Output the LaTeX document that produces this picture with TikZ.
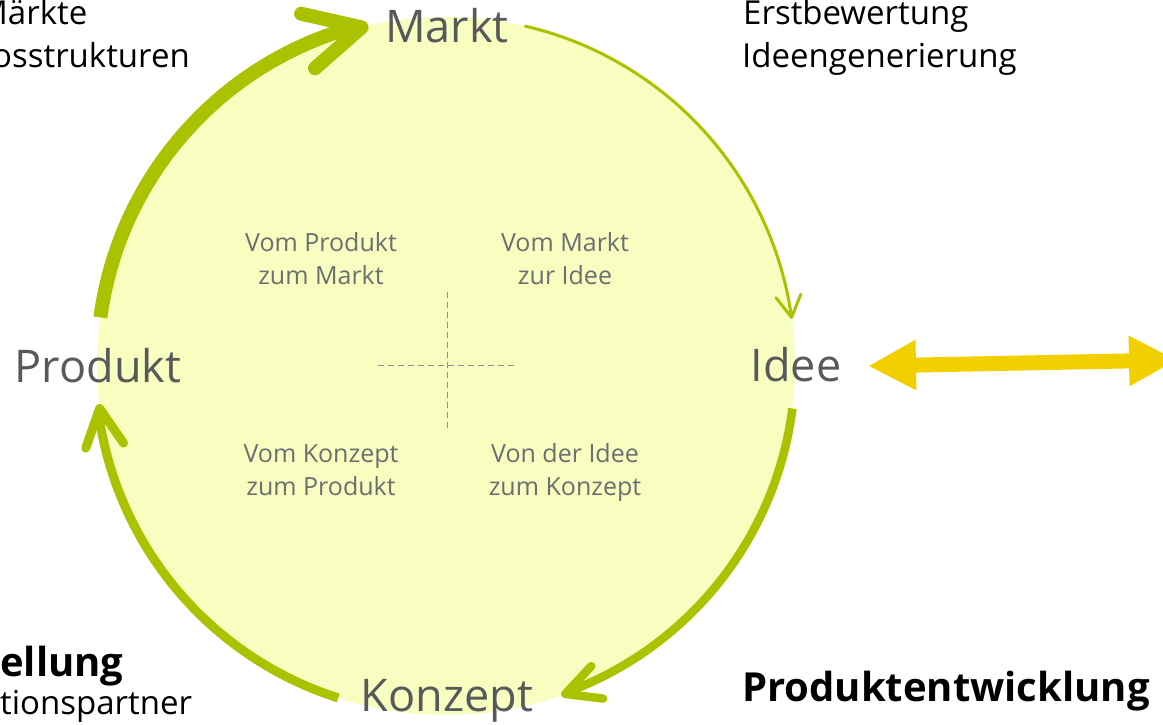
\documentclass[tikz,border=0pt]{standalone}
\usepackage{fontspec}
\setmainfont{Open Sans}
\usetikzlibrary{arrows.meta,calc}
\definecolor{circfill}{HTML}{F8FDC0}
\definecolor{arcgreen}{HTML}{AAC200}
\definecolor{arrowyellow}{HTML}{F2D000}
\definecolor{labelgray}{HTML}{58595B}
\definecolor{innergray}{HTML}{6D6E70}
\definecolor{dashgray}{HTML}{909090}
\begin{document}
\begin{tikzpicture}[x=1pt,y=1pt,
  phase/.style={font=\fontsize{45}{50}\selectfont, text=labelgray, inner sep=0pt, anchor=base},
  quadrant/.style={font=\fontsize{25}{33}\selectfont, text=innergray, align=center, inner sep=0pt, anchor=base},
  bodytext/.style={font=\fontsize{33}{40}\selectfont, text=black, inner sep=0pt, anchor=base west},
  headtext/.style={font=\fontsize{40}{48}\selectfont\bfseries, text=black, inner sep=0pt, anchor=base west},
  cyclearc/.style={draw=arcgreen, line cap=butt},
  chevron/.style={draw=arcgreen, line cap=round, line join=round},
  crossline/.style={draw=dashgray, line width=1pt, dash pattern=on 6pt off 4pt},
  linkarrow/.style={draw=arrowyellow, fill=arrowyellow, line width=15pt, arrows={Triangle[length=48pt,width=47pt]-Triangle[length=48pt,width=47pt]}}
]
\useasboundingbox (0,0) rectangle (1163,725);
\fill[white] (0,0) rectangle (1163,725);

% wheel
\node[circle, fill=circfill, minimum size=698pt, inner sep=0pt, outer sep=0pt] (wheel) at (446,359) {};

% dashed cross
\coordinate (crossW) at (378,359);
\coordinate (crossE) at (516,359);
\coordinate (crossN) at (447,433);
\coordinate (crossS) at (447,296);
\draw[crossline] (crossW) -- (crossE);
\draw[crossline] (crossN) -- (crossS);

% arcs: Produkt -> Markt
\draw[cyclearc, line width=14pt] (wheel.172.4) arc[start angle=172.4, end angle=105.3, radius=349];
\draw[chevron, line width=14pt] ($(wheel.104.3)+(221.3:62)$) -- (wheel.104.3) -- ($(wheel.104.3)+(167.3:62)$);
% Markt -> Idee
\draw[cyclearc, line width=3pt] (wheel.77) arc[start angle=77, end angle=8.6, radius=349];
\draw[chevron, line width=3pt] ($(wheel.8.4)+(128.4:25)$) -- (wheel.8.4) -- ($(wheel.8.4)+(68.4:25)$);
% Idee -> Konzept
\draw[cyclearc, line width=8.5pt] (wheel.-7.2) arc[start angle=-7.2, end angle=-69.2, radius=349];
\draw[chevron, line width=8.5pt] ($(wheel.-70)+(47:38)$) -- (wheel.-70) -- ($(wheel.-70)+(-7:38)$);
% Konzept -> Produkt
\draw[cyclearc, line width=9pt] (wheel.252.3) arc[start angle=252.3, end angle=188.5, radius=349];
\draw[chevron, line width=9pt] ($(wheel.187.7)+(250.7:42)$) -- (wheel.187.7) -- ($(wheel.187.7)+(304.7:42)$);

% phase labels
\node[phase] (markt) at (447,682) {Markt};
\node[phase] (produkt) at (98,342) {Produkt};
\node[phase] (idee) at (796,343) {Idee};
\node[phase] (konzept) at (447,13) {Konzept};

% quadrant texts
\node[quadrant] (q1) at (321,440) {Vom Produkt\\zum Markt};
\node[quadrant] (q2) at (565,440) {Vom Markt\\zur Idee};
\node[quadrant] (q3) at (321,229) {Vom Konzept\\zum Produkt};
\node[quadrant] (q4) at (565,229) {Von der Idee\\zum Konzept};

% yellow double arrow
\coordinate (linkL) at (868,359);
\coordinate (linkR) at (1177,365);
\draw[linkarrow] (linkL) -- (linkR);

% corner texts
\node[bodytext] (tl1) at (-22,700) {Märkte};
\node[bodytext] (tl2) at (-8,657) {osstrukturen};
\node[bodytext] (tr1) at (743,700) {Erstbewertung};
\node[bodytext] (tr2) at (742,657) {Ideengenerierung};
\node[headtext] (bl1) at (0,48) {ellung};
\node[bodytext] (bl2) at (0,10) {tionspartner};
\node[headtext] (br1) at (742,23) {Produktentwicklung};
\end{tikzpicture}
\end{document}
